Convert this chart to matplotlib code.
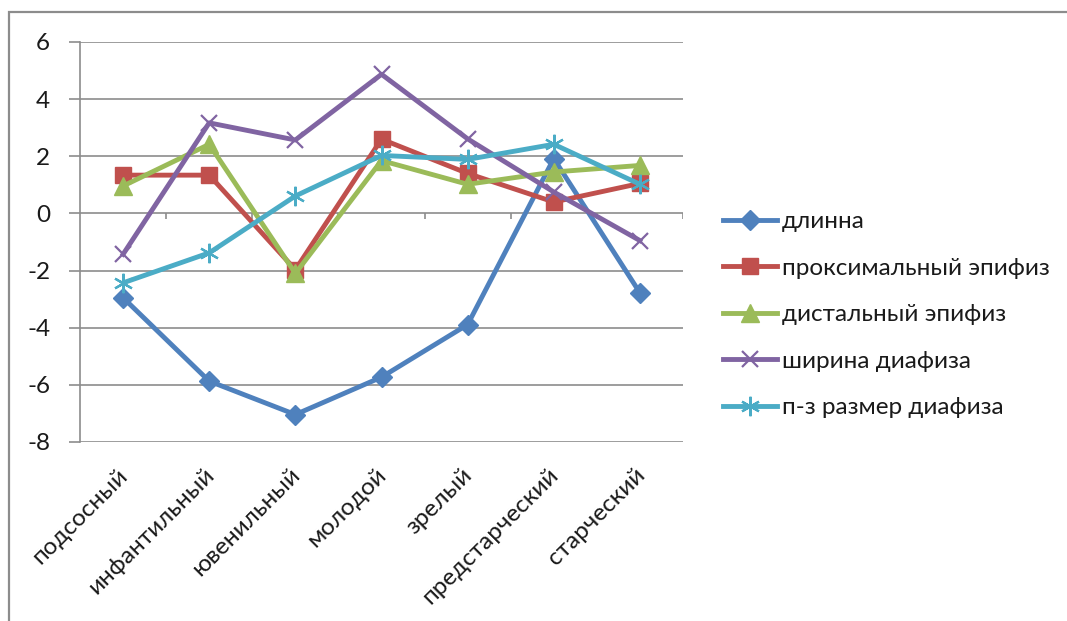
import matplotlib
matplotlib.use("Agg")
import matplotlib.pyplot as plt
from matplotlib.patches import Rectangle
from matplotlib.transforms import ScaledTranslation, blended_transform_factory
import numpy as np

# Age groups (x axis)
categories = ["подсосный", "инфантильный", "ювенильный", "молодой",
              "зрелый", "предстарческий", "старческий"]

# Series values
dlinna = [-2.95, -5.87, -7.04, -5.73, -3.89, 1.92, -2.78]
prox_epiphysis = [1.34, 1.34, -1.97, 2.6, 1.4, 0.4, 1.05]
dist_epiphysis = [0.96, 2.42, -2.1, 1.85, 1.02, 1.45, 1.68]
diaphysis_width = [-1.43, 3.17, 2.57, 4.87, 2.61, 0.75, -0.95]
diaphysis_ap = [-2.43, -1.38, 0.61, 2.03, 1.89, 2.42, 1.02]

series_names = ["длинна", "проксимальный эпифиз", "дистальный эпифиз",
                "ширина диафиза", "п-з размер диафиза"]

y_ticks = [-8, -6, -4, -2, 0, 2, 4, 6]

W, H = 1067, 621
FS = 17.5
fig = plt.figure(figsize=(W / 100, H / 100), dpi=100)
fig.patch.set_facecolor("white")
plt.rcParams["font.family"] = ["Lato", "DejaVu Sans"]

# outer chart frame (partially cut off at right and bottom)
fig.patches.append(Rectangle((9 / W, -0.1), 1.2, 1 - 12 / H + 0.1,
                             transform=fig.transFigure, fill=False,
                             edgecolor="#8c8c8c", linewidth=1.6, zorder=0))

ax = fig.add_axes([80 / W, 1 - 442 / H, 603 / W, 400 / H])
x = np.arange(len(categories))

styles = [
    dict(color="#4F81BD", marker="D", ms=10),
    dict(color="#C0504D", marker="s", ms=12),
    dict(color="#9BBB59", marker="^", ms=13),
    dict(color="#8064A2", marker="x", ms=12, mew=1.6),
    dict(color="#4BACC6", marker=(6, 2, 0), ms=14, mew=1.6),
]
data = [dlinna, prox_epiphysis, dist_epiphysis, diaphysis_width, diaphysis_ap]

handles = []
for vals, name, st in zip(data, series_names, styles):
    st = dict(st)
    mew = st.pop("mew", 1.0)
    line, = ax.plot(x, vals, color=st["color"], lw=3.5, marker=st["marker"],
                    markersize=st["ms"], markeredgewidth=mew,
                    markerfacecolor=st["color"], markeredgecolor=st["color"],
                    label=name, zorder=3, solid_joinstyle="round")
    handles.append(line)

ax.set_xlim(-0.5, len(categories) - 0.5)
ax.set_ylim(-8, 6)
ax.set_yticks(y_ticks)
ax.set_yticklabels([str(v) for v in y_ticks], fontsize=FS, color="#1a1a1a")
ax.yaxis.grid(True, color="#8c8c8c", linewidth=1.2)
ax.set_axisbelow(True)
ax.tick_params(axis="y", length=8, width=1.2, color="#8c8c8c", pad=13.5)

for s in ["top", "right", "bottom"]:
    ax.spines[s].set_visible(False)
ax.spines["left"].set_color("#8c8c8c")
ax.spines["left"].set_linewidth(1.2)

# category labels along the bottom, rotated
ax.set_xticks(x)
ax.set_xticklabels(categories, fontsize=FS, color="#1a1a1a",
                   rotation=45, ha="right", va="center",
                   rotation_mode="anchor")
ax.tick_params(axis="x", length=0, pad=21.5)
shift = ScaledTranslation(1.5 / 100, 0, fig.dpi_scale_trans)
for lbl in ax.get_xticklabels():
    lbl.set_transform(lbl.get_transform() + shift)

# category axis crosses at zero: short boundary ticks hanging below the 0 line
boundaries = np.arange(-0.5, len(categories), 1.0)
tick_px = 6
tick_len = tick_px * (ax.get_ylim()[1] - ax.get_ylim()[0]) / 400
ax.vlines(boundaries[1:], -tick_len, 0, colors="#8c8c8c", linewidth=1.2,
          zorder=1)

leg = fig.legend(handles=handles, loc="upper left",
                 bbox_to_anchor=(723 / W, 1 - 211 / H),
                 frameon=False, fontsize=FS, handlelength=2.22,
                 handletextpad=0.2, labelspacing=1.05, borderpad=0,
                 borderaxespad=0)
for t in leg.get_texts():
    t.set_color("#1a1a1a")

fig.savefig("out.png", dpi=100, facecolor="white")
